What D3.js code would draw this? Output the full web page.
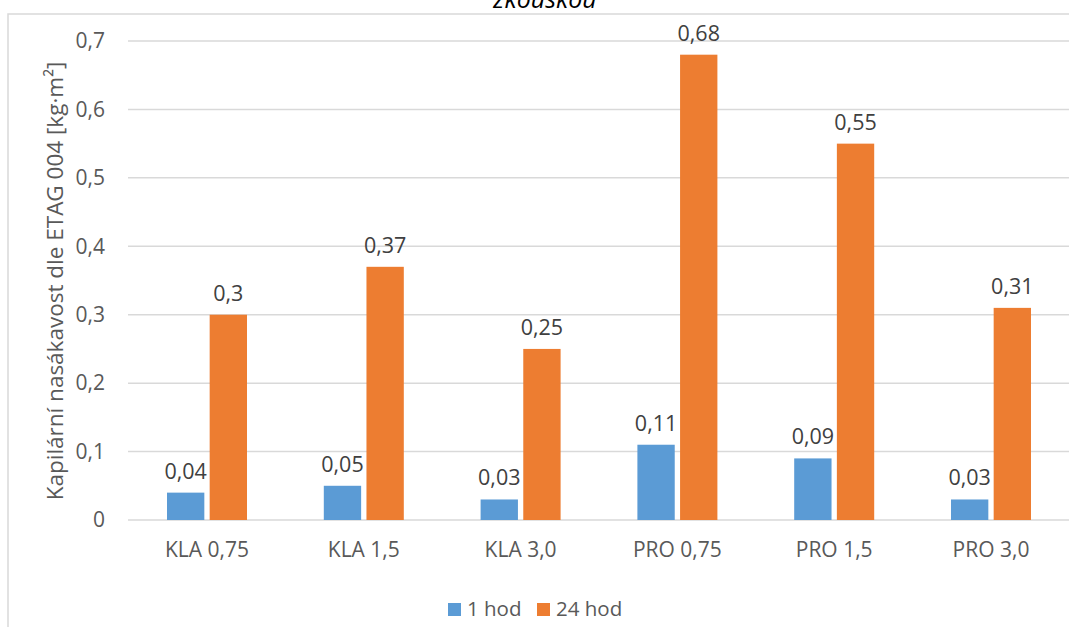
<!DOCTYPE html>
<html><head><meta charset="utf-8">
<script src="https://cdn.jsdelivr.net/npm/d3@7"></script>
<style>body{margin:0;background:#fff}svg{display:block}text{font-family:"Open Sans",sans-serif}</style>
</head><body><svg id="c" width="1069" height="627"></svg>
<script>
const categories = ["KLA 0,75","KLA 1,5","KLA 3,0","PRO 0,75","PRO 1,5","PRO 3,0"];
const seriesNames = ["1 hod","24 hod"];
const hod1 = [0.04,0.05,0.03,0.11,0.09,0.03];
const hod24 = [0.3,0.37,0.25,0.68,0.55,0.31];
const yTicks = [0,0.1,0.2,0.3,0.4,0.5,0.6,0.7];
const colors = ["#5B9BD5","#ED7D31"];
const titleText = "zkouškou";
const yTitle = "Kapilární nasákavost dle ETAG 004 [kg·m²]";

const FONT = '"Open Sans",sans-serif';
const svg = d3.select("#c");
const fmt = v => String(v).replace(".", ",");
// chart border
svg.append("rect").attr("x",8).attr("y",14).attr("width",1100).attr("height",700)
  .attr("fill","none").attr("stroke","#d9d9d9").attr("stroke-width",1.5);
svg.append("text").attr("x",545).attr("y",8).attr("text-anchor","middle")
  .attr("font-size",25).attr("font-style","italic").attr("fill","#000").text(titleText);

const x0 = d3.scaleBand().domain(categories).range([128.6,1069.4]).padding(0);
const y = d3.scaleLinear().domain([0,0.7]).range([520,41]);
const x1 = d3.scaleBand().domain(seriesNames).range([-40,40]).paddingInner(10/80);

// gridlines
svg.append("g").selectAll("line").data(yTicks).join("line")
  .attr("x1",128).attr("x2",1069).attr("y1",d=>y(d)).attr("y2",d=>y(d))
  .attr("stroke","#d9d9d9").attr("stroke-width",1.5);
// y tick labels
const yAxis = svg.append("g").attr("transform","translate(128,0)")
  .call(d3.axisLeft(y).tickValues(yTicks).tickFormat(fmt).tickSize(0).tickPadding(23));
yAxis.select(".domain").remove();
yAxis.selectAll("text").attr("font-size",21).attr("fill","#595959").attr("font-family",FONT);
// x axis labels
const xAxis = svg.append("g").attr("transform","translate(0,520)")
  .call(d3.axisBottom(x0).tickSize(0).tickPadding(22));
xAxis.select(".domain").remove();
xAxis.selectAll("text").attr("font-size",21).attr("fill","#595959").attr("font-family",FONT);

const data = categories.map((c,i)=>({c, vals:[hod1[i],hod24[i]]}));
const groups = svg.append("g").selectAll("g").data(data).join("g")
  .attr("transform",d=>`translate(${x0(d.c)+x0.bandwidth()/2},0)`);
groups.selectAll("rect").data(d=>d.vals.map((v,j)=>({v,s:seriesNames[j],j}))).join("rect")
  .attr("x",d=>x1(d.s)).attr("width",x1.bandwidth())
  .attr("y",d=>y(d.v)).attr("height",d=>y(0)-y(d.v)).attr("fill",d=>colors[d.j]);
groups.selectAll("text.lbl").data(d=>d.vals.map((v,j)=>({v,s:seriesNames[j],j}))).join("text")
  .attr("class","lbl").attr("x",d=>x1(d.s)+x1.bandwidth()/2).attr("y",d=>y(d.v)-14)
  .attr("text-anchor","middle").attr("font-size",21.5).attr("fill","#404040").text(d=>fmt(d.v));

// y axis title
svg.append("text").attr("transform","translate(63,281) rotate(-90)").attr("text-anchor","middle")
  .attr("font-size",22.5).attr("fill","#595959").text(yTitle);

// legend
const leg = svg.append("g");
const legX = [448,537];
seriesNames.forEach((n,i)=>{
  leg.append("rect").attr("x",legX[i]).attr("y",603).attr("width",13).attr("height",13).attr("fill",colors[i]);
  leg.append("text").attr("x",legX[i]+19).attr("y",616).attr("font-size",20.5).attr("fill","#595959").text(n);
});
</script></body></html>
